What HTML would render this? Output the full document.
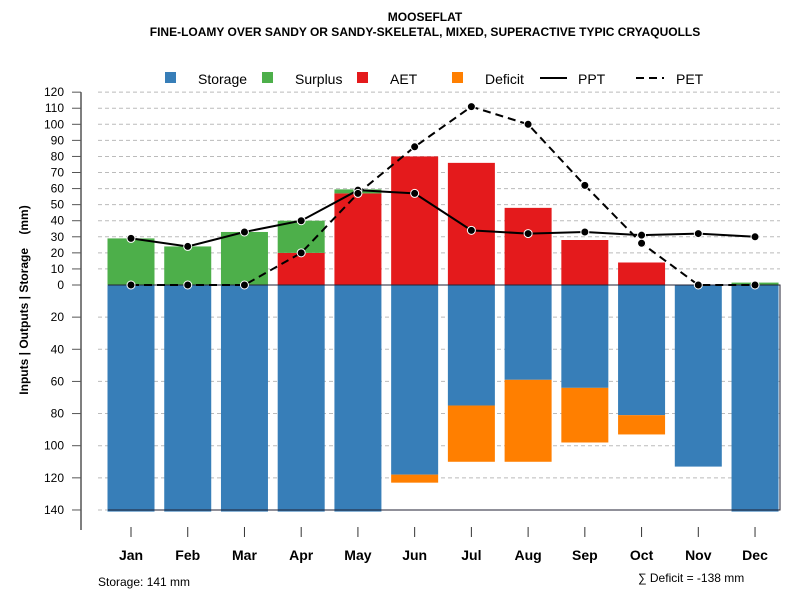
<!DOCTYPE html>
<html><head><meta charset="utf-8"><style>
body{margin:0;background:#fff}
svg{display:block;font-family:"Liberation Sans",sans-serif}
</style></head><body>
<svg id="c" width="800" height="600"></svg>
<script>
const months=["Jan","Feb","Mar","Apr","May","Jun","Jul","Aug","Sep","Oct","Nov","Dec"];
const storage=[141,141,141,141,141,118,75,59,64,81,113,141];
const deficit=[0,0,0,0,0,5,35,51,34,12,0,0];
const aet=[0,0,0,20,57,80,76,48,28,14,0,0];
const surplus=[29,24,33,20,2.5,0,0,0,0,0,0,1.5];
const ppt=[29,24,33,40,59,57,34,32,33,31,32,30];
const pet=[0,0,0,20,57,86,111,100,62,26,0,0];
const upTicks=[0,10,20,30,40,50,60,70,80,90,100,110,120];
const downTicks=[20,40,60,80,100,120,140];
const NS="http://www.w3.org/2000/svg";
const svg=document.getElementById('c');
const Y0=285,K=1.607;
const y=v=>Y0-v*K;
const x=i=>131+i*56.73;
const BW=47;
function el(t,a,p){const e=document.createElementNS(NS,t);for(const k in a)e.setAttribute(k,a[k]);(p||svg).appendChild(e);return e;}
function txt(s,a){const e=el('text',a);e.textContent=s;return e;}
let t;
t=txt("MOOSEFLAT",{x:425,y:21,"text-anchor":"middle","font-size":12,"font-weight":"bold"});

t=txt("FINE-LOAMY OVER SANDY OR SANDY-SKELETAL, MIXED, SUPERACTIVE TYPIC CRYAQUOLLS",{x:425,y:36,"text-anchor":"middle","font-size":12,"font-weight":"bold"});

upTicks.forEach(v=>{if(v>0){const l=el('line',{x1:98,x2:780,y1:y(v),y2:y(v),stroke:"#bbb","stroke-dasharray":"4,3"});}});
downTicks.forEach(v=>{const l=el('line',{x1:98,x2:780,y1:y(-v),y2:y(-v),stroke:"#bbb","stroke-dasharray":"4,3"});});
months.forEach((m,i)=>{
 const bx=x(i)-BW/2;
 let r=el('rect',{x:bx,y:Y0,width:BW,height:storage[i]*K,fill:"#377EB8"});
 
 if(deficit[i]>0){r=el('rect',{x:bx,y:y(-storage[i]),width:BW,height:deficit[i]*K,fill:"#FF7F00"});
 }
 if(aet[i]>0){r=el('rect',{x:bx,y:y(aet[i]),width:BW,height:aet[i]*K,fill:"#E41A1C"});
 }
 if(surplus[i]>0){r=el('rect',{x:bx,y:y(aet[i]+surplus[i]),width:BW,height:surplus[i]*K,fill:"#4DAF4A"});
 }
 const tk=el('line',{x1:x(i),x2:x(i),y1:527,y2:537,stroke:"#333"});
 
 t=txt(m,{x:x(i),y:560,"text-anchor":"middle","font-size":14,"font-weight":"bold"});
 
});
let fr=el('path',{d:`M108 ${Y0} H780 V${y(-140)} H108`,fill:"none",stroke:"#223"});

let ax=el('line',{x1:81,x2:81,y1:y(120),y2:530,stroke:"#555","stroke-width":1.5});

upTicks.forEach(v=>{el('line',{x1:72,x2:81,y1:y(v),y2:y(v),stroke:"#555"});
 t=txt(v,{x:64,y:y(v)+4,"text-anchor":"end","font-size":12});});
downTicks.forEach(v=>{el('line',{x1:72,x2:81,y1:y(-v),y2:y(-v),stroke:"#555"});
 t=txt(v,{x:64,y:y(-v)+4,"text-anchor":"end","font-size":12});});
t=txt("Inputs | Outputs | Storage\u00a0\u00a0\u00a0\u00a0(mm)",{x:0,y:0,transform:"translate(28,300) rotate(-90)","text-anchor":"middle","font-size":12,"font-weight":"bold"});

function pts(vals,name){vals.forEach((v,i)=>{const c=el('circle',{cx:x(i),cy:y(v),r:4,fill:"#000",stroke:"#fff","stroke-width":1});
 });}
const p1=el('polyline',{points:ppt.map((v,i)=>x(i)+","+y(v)).join(" "),fill:"none",stroke:"#000","stroke-width":2});

const p2=el('polyline',{points:pet.map((v,i)=>x(i)+","+y(v)).join(" "),fill:"none",stroke:"#000","stroke-width":2,"stroke-dasharray":"8,5"});

pts(ppt,'ppt');pts(pet,'pet');
const lg=[["Storage","#377EB8",165],["Surplus","#4DAF4A",262],["AET","#E41A1C",357],["Deficit","#FF7F00",452]];
lg.forEach(([n,c,lx])=>{const r=el('rect',{x:lx,y:72,width:11,height:11,fill:c});
 
 t=txt(n,{x:lx+33,y:84,"font-size":14});});
let l=el('line',{x1:540,x2:567,y1:78,y2:78,stroke:"#000","stroke-width":2});
t=txt("PPT",{x:578,y:84,"font-size":14});
l=el('line',{x1:636,x2:664,y1:78,y2:78,stroke:"#000","stroke-width":2,"stroke-dasharray":"8,5"});
t=txt("PET",{x:676,y:84,"font-size":14});
t=txt("Storage: 141 mm",{x:98,y:586,"font-size":12});
t=txt("∑ Deficit = -138 mm",{x:638,y:582,"font-size":12});
</script>
</body></html>
